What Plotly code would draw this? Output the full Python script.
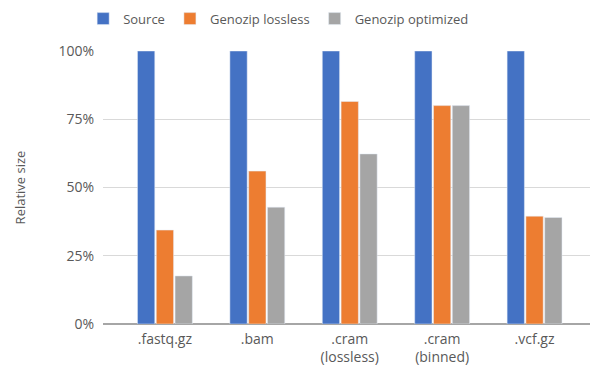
import plotly.graph_objects as go

categories = [".fastq.gz", ".bam", ".cram<br>(lossless)", ".cram<br>(binned)", ".vcf.gz"]
source = [1.00, 1.00, 1.00, 1.00, 1.00]
lossless = [0.344, 0.56, 0.815, 0.80, 0.395]
optimized = [0.176, 0.428, 0.623, 0.80, 0.39]
tick_vals = [0, 0.25, 0.5, 0.75, 1.0]
tick_text = ["0%", "25%", "50%", "75%", "100%"]

font_family = "Open Sans, Liberation Sans, sans-serif"
text_color = "#595959"

fig = go.Figure()
fig.add_trace(go.Bar(name="Source", x=categories, y=source, marker_color="#4472C4"))
fig.add_trace(go.Bar(name="Genozip lossless", x=categories, y=lossless, marker_color="#ED7D31"))
fig.add_trace(go.Bar(name="Genozip optimized", x=categories, y=optimized, marker_color="#A5A5A5"))

fig.update_layout(
    width=594, height=366,
    margin=dict(l=103, r=4, t=51, b=42, autoexpand=False),
    paper_bgcolor="white", plot_bgcolor="white",
    barmode="group", bargap=0.39, bargroupgap=0.08,
    font=dict(family=font_family, size=13, color=text_color),
    legend=dict(orientation="h", x=0.14, y=0.99, yref="container", xref="container",
                xanchor="left", yanchor="top", font=dict(size=13, color=text_color),
                itemwidth=30, traceorder="normal"),
    showlegend=True,
)
fig.update_xaxes(range=[-0.67, 4.6], showgrid=False, showline=False, ticks="",
                 automargin=False, tickfont=dict(size=14, color=text_color),
                 ticklabelstandoff=5)
fig.update_yaxes(range=[0, 1.0], tickvals=tick_vals, ticktext=tick_text,
                 showgrid=True, gridcolor="#D9D9D9", gridwidth=1,
                 zeroline=True, zerolinecolor="#A6A6A6", zerolinewidth=1.5,
                 automargin=False,
                 title=dict(text="Relative size", font=dict(size=13, color=text_color), standoff=29),
                 tickfont=dict(size=14, color=text_color), ticklabelstandoff=8)

fig.write_html("out.html", config={"displayModeBar": False},
               post_script="document.body.style.margin='0';document.body.style.overflow='hidden';")
